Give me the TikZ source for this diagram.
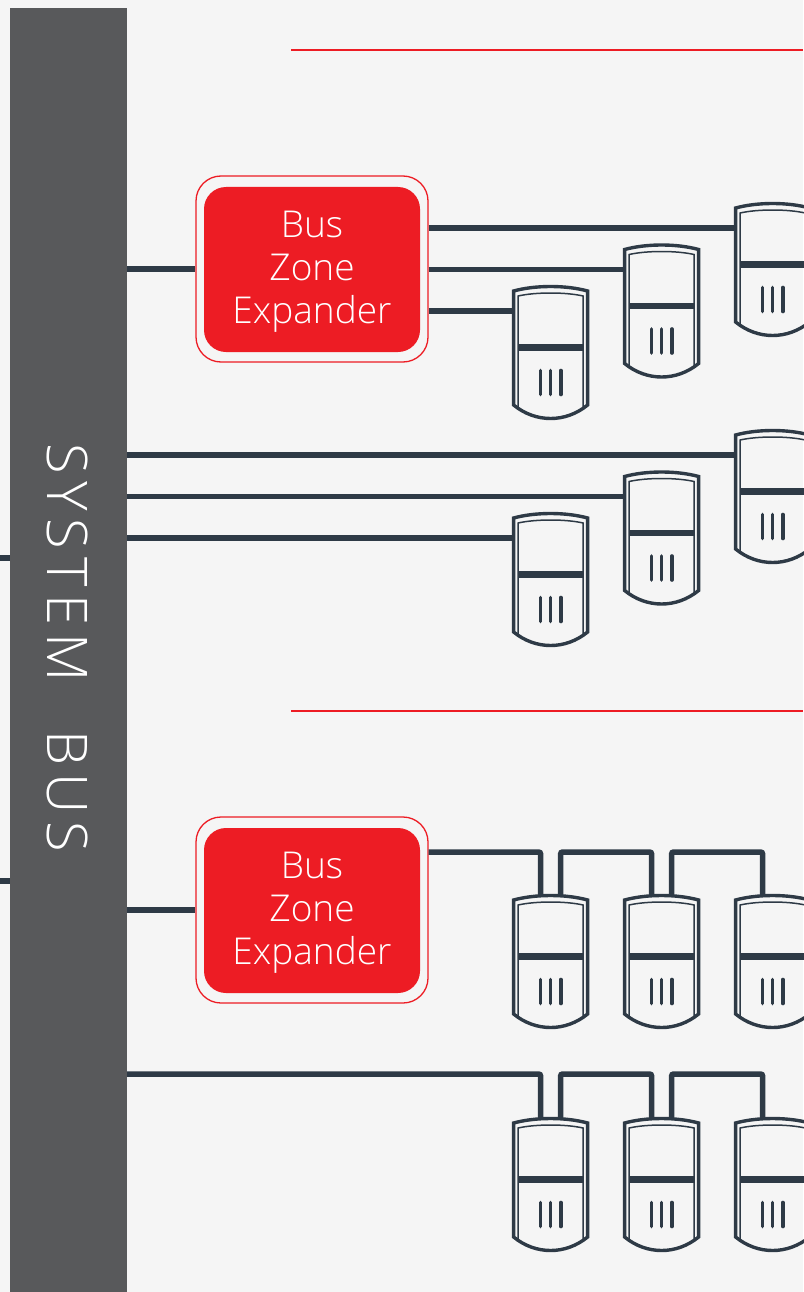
\documentclass[tikz,border=0pt]{standalone}
\usepackage{fontspec}
\setmainfont{Open Sans Light}
\usetikzlibrary{calc}
\definecolor{bgc}{HTML}{F5F5F5}
\definecolor{busc}{HTML}{58595B}
\definecolor{redc}{HTML}{ED1C24}
\definecolor{wirec}{HTML}{2E3A46}
\tikzset{
  wire/.style={draw=wirec,line width=5.5pt},
  railwire/.style={wire,rounded corners=2pt},
  redline/.style={draw=redc,line width=1.5pt},
  stub/.style={wire},
  expouter/.style={draw=redc,line width=1.3pt,fill=bgc,rounded corners=25pt,minimum width=232pt,minimum height=186pt,inner sep=0pt},
  expinner/.style={fill=redc,rounded corners=22pt,minimum width=216pt,minimum height=165pt,inner sep=0pt},
  explabel/.style={text=white,align=center,inner sep=0pt,font=\fontsize{37}{43}\selectfont},
  busbar/.style={fill=busc,minimum width=117pt,minimum height=1284pt,inner sep=0pt},
  sensorframe/.style={minimum width=76pt,minimum height=133pt,inner sep=0pt},
  outerline/.style={draw=wirec,line width=3.4pt,line join=miter},
  innerline/.style={draw=wirec,line width=1.5pt},
}
\newcommand{\sensorat}[3]{%
  \node[sensorframe] (#1) at (#2-0.4,#3+66.5) {};
  \begin{scope}[shift={(#2-0.4,#3)}]
    \draw[innerline] (-32.5,123) -- (-32.5,10) .. controls (-15,6) and (15,6) .. (32.5,10) -- (32.5,123);
    \draw[outerline] (-37,5) .. controls (-15,-1) and (15,-1) .. (37,5) -- (37,119)
       .. controls (15,137) and (-15,137) .. (-37,119) -- cycle;
    \draw[draw=wirec,line width=6.5pt] (-32.5,61.3) -- (32.5,61.3);
    \foreach \tx in {-10.3,0,10.3}
      \draw[draw=wirec,line width=3.6pt,line cap=round] (\tx,84.5) -- (\tx,108.5);
  \end{scope}}
\begin{document}
\begin{tikzpicture}[x=1pt,y=-1pt]
\useasboundingbox (0,0) rectangle (803,1292);
\fill[bgc] (0,0) rectangle (803,1292);
\coordinate (redA) at (291,50);
\coordinate (redAend) at (803,50);
\coordinate (redB) at (291,711);
\coordinate (redBend) at (803,711);
\draw[redline] (redA) -- (redAend);
\draw[redline] (redB) -- (redBend);
\node[busbar] (bus) at (68.5,650) {};
\node[rotate=-90,text=white,font=\fontsize{56}{56}\selectfont\addfontfeature{LetterSpace=14}] (buslabel) at (67.5,647.5) {SYSTEM\hspace{49pt}BUS};
\coordinate (leftA) at (0,558);
\coordinate (leftB) at (0,881);
\draw[stub] (leftA) -- (bus.west |- leftA);
\draw[stub] (leftB) -- (bus.west |- leftB);
\node[expouter] (e1) at (312,269) {};
\node[expinner] (e1b) at (312,269.5) {};
\node[explabel] (e1t) at (312,272) {Bus\\Zone\\Expander};
\node[expouter] (e2) at (312,910) {};
\node[expinner] (e2b) at (312,910.5) {};
\node[explabel] (e2t) at (312,913) {Bus\\Zone\\Expander};
\draw[wire] (bus.east |- e1.west) -- (e1.west);
\draw[wire] (bus.east |- e2.west) -- (e2.west);
\sensorat{a1}{551}{286}\sensorat{a2}{662}{244.5}\sensorat{a3}{773}{203}
\sensorat{b1}{551}{513}\sensorat{b2}{662}{471.5}\sensorat{b3}{773}{430}
\sensorat{c1}{551}{895}\sensorat{c2}{662}{895}\sensorat{c3}{773}{895}
\sensorat{d1}{551}{1118}\sensorat{d2}{662}{1118}\sensorat{d3}{773}{1118}
\foreach \s in {a1,a2,a3,b1,b2,b3} \coordinate (\s p) at ($(\s.north west)+(0,25)$);
\draw[wire] (e1.east |- a3p) -- (a3p);
\draw[wire] (e1.east |- a2p) -- (a2p);
\draw[wire] (e1.east |- a1p) -- (a1p);
\draw[wire] (bus.east |- b3p) -- (b3p);
\draw[wire] (bus.east |- b2p) -- (b2p);
\draw[wire] (bus.east |- b1p) -- (b1p);
\coordinate (railc) at (0,852);
\coordinate (raild) at (0,1074);
\foreach \s in {c1,c2,c3,d1,d2,d3} {
  \coordinate (\s l) at ($(\s.north)+(-10,2)$);
  \coordinate (\s r) at ($(\s.north)+(10,2)$);
}
\draw[railwire] (e2.east |- railc) -| (c1l);
\draw[railwire] (c1r) |- (railc -| c2l) -- (c2l);
\draw[railwire] (c2r) |- (railc -| c3l) -- (c3l);
\draw[railwire] (bus.east |- raild) -| (d1l);
\draw[railwire] (d1r) |- (raild -| d2l) -- (d2l);
\draw[railwire] (d2r) |- (raild -| d3l) -- (d3l);
\end{tikzpicture}
\end{document}
